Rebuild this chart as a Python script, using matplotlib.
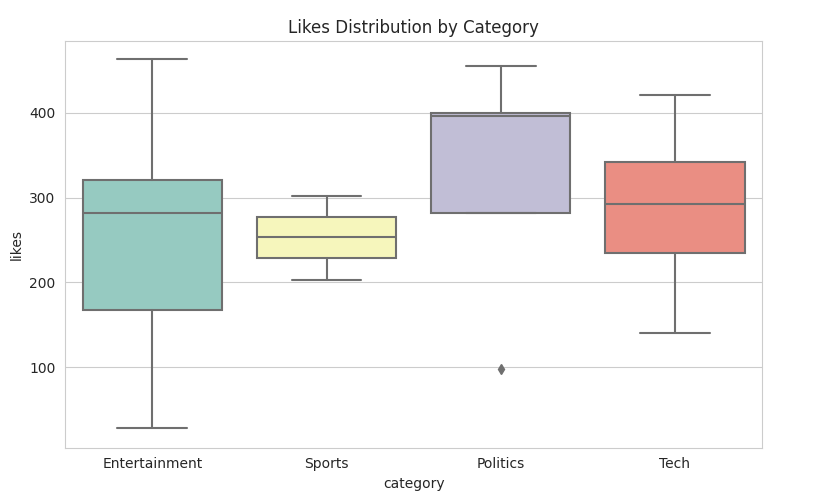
import matplotlib
matplotlib.use("Agg")
import matplotlib.pyplot as plt
import seaborn as sns

categories = ["Entertainment", "Sports", "Politics", "Tech"]
whislo = [28, 203, 282, 140]
q1 = [167, 229, 282, 235]
med = [282, 254, 396, 292]
q3 = [321, 277, 400, 342]
whishi = [463, 302, 455, 421]
fliers = [[], [], [98], []]

sns.set_style("whitegrid")
fig, ax = plt.subplots(figsize=(8.15, 4.92), dpi=100)
fig.subplots_adjust(left=0.08, right=0.935, top=0.917, bottom=0.09)

stats = [dict(label=c, whislo=a, q1=b, med=m, q3=d, whishi=e, fliers=f)
         for c, a, b, m, d, e, f in zip(categories, whislo, q1, med, q3, whishi, fliers)]
colors = [sns.desaturate(c, 0.75) for c in sns.color_palette("Set3", 4)]
line = "#6f6f6f"
bp = ax.bxp(stats, positions=range(4), widths=0.8, patch_artist=True,
            boxprops=dict(edgecolor=line, linewidth=1.5),
            medianprops=dict(color=line, linewidth=1.5),
            whiskerprops=dict(color=line, linewidth=1.5),
            capprops=dict(color=line, linewidth=1.5),
            flierprops=dict(marker="d", markerfacecolor=line, markeredgecolor=line, markersize=5))
for patch, c in zip(bp["boxes"], colors):
    patch.set_facecolor(c)

ax.set_xlim(-0.5, 3.5)
ax.set_ylim(5, 485)
ax.set_yticks([100, 200, 300, 400])
ax.xaxis.grid(False)
ax.set_xlabel("category")
ax.set_ylabel("likes")
ax.set_title("Likes Distribution by Category")
plt.savefig("out.png", dpi=100)
